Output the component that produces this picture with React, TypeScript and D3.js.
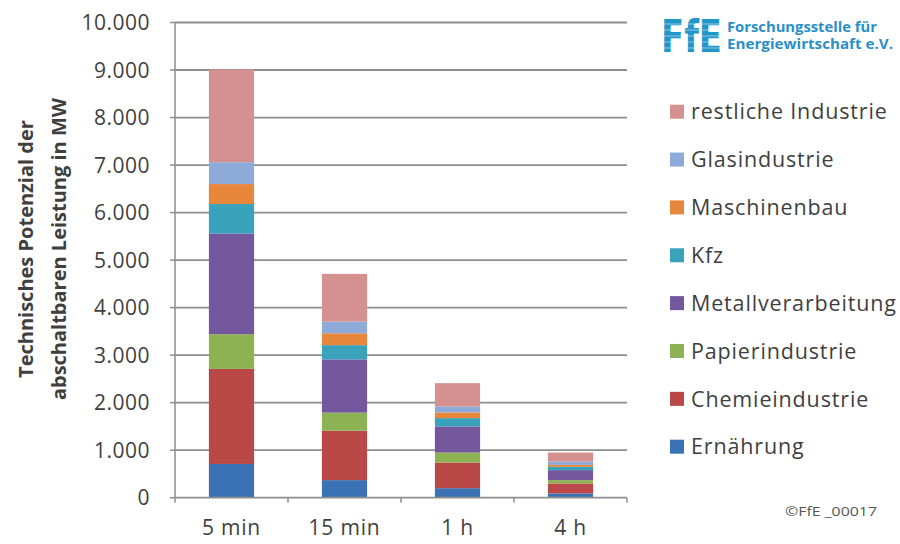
import React from "react";
import * as d3 from "d3";

const categories = ["5 min", "15 min", "1 h", "4 h"];
const seriesNames = [
  "Ernährung",
  "Chemieindustrie",
  "Papierindustrie",
  "Metallverarbeitung",
  "Kfz",
  "Maschinenbau",
  "Glasindustrie",
  "restliche Industrie",
];
const seriesColors = [
  "#3b72b6",
  "#b94846",
  "#8db254",
  "#74579d",
  "#3aa2bb",
  "#e8873b",
  "#8eaad8",
  "#d59090",
];
const ernaehrung = [710, 370, 200, 90];
const chemie = [2000, 1040, 540, 210];
const papier = [730, 380, 210, 70];
const metall = [2120, 1120, 550, 210];
const kfz = [620, 300, 175, 70];
const maschinenbau = [420, 250, 120, 40];
const glas = [460, 245, 125, 70];
const restliche = [1950, 1005, 490, 190];
const seriesValues = [ernaehrung, chemie, papier, metall, kfz, maschinenbau, glas, restliche];
const yTicks = [0, 1000, 2000, 3000, 4000, 5000, 6000, 7000, 8000, 9000, 10000];

const W = 900;
const H = 544;
const plotLeft = 175;
const plotRight = 627;
const plotTop = 22.5;
const plotBottom = 497.7;

export default function App() {
  const x = d3.scaleBand<string>().domain(categories).range([plotLeft, plotRight]).paddingInner(0.6).paddingOuter(0.3);
  const y = d3.scaleLinear().domain([0, 10000]).range([plotBottom, plotTop]);
  const rows = categories.map((c, i) => {
    const r: any = { cat: c };
    seriesNames.forEach((s, k) => (r[s] = seriesValues[k][i]));
    return r;
  });
  const stacked = d3.stack<any>().keys(seriesNames)(rows);
  const fmt = (v: number) => d3.format(",")(v).replace(/,/g, ".");
  const band = (plotRight - plotLeft) / categories.length;
  const font = "'Open Sans', Lato, sans-serif";
  const legendY = d3.scaleLinear().domain([0, 7]).range([111.7, 446.7]);
  const legendOrder = seriesNames.slice().reverse();
  const textCol = "#3f3f3f";
  const gridCol = "#8e8e8e";

  return (
    <svg width={W} height={H} style={{ position: "absolute", left: 0, top: 0, background: "#fff" }} fontFamily={font}>
      {/* gridlines */}
      {yTicks.filter((t) => t > 0).map((t) => (
        <line key={t} x1={plotLeft} x2={plotRight} y1={y(t)} y2={y(t)} stroke={gridCol} strokeWidth={1.8} />
      ))}
      {/* y axis */}
      <line x1={plotLeft} x2={plotLeft} y1={plotTop} y2={plotBottom} stroke={gridCol} strokeWidth={1.5} />
      {yTicks.map((t) => (
        <g key={"yt" + t}>
          <line x1={plotLeft - 5} x2={plotLeft} y1={y(t)} y2={y(t)} stroke={gridCol} strokeWidth={1.5} />
          <text x={150} y={y(t)} dy="0.36em" textAnchor="end" fontSize={21} letterSpacing={0.5} fill={textCol}>
            {fmt(t)}
          </text>
        </g>
      ))}
      {/* bars */}
      {stacked.map((layer, k) => (
        <g key={layer.key} fill={seriesColors[k]}>
          {layer.map((d, i) => (
            <rect key={i} x={x(categories[i])} width={x.bandwidth()} y={y(d[1])} height={y(d[0]) - y(d[1])} />
          ))}
        </g>
      ))}
      {/* x axis */}
      <line x1={plotLeft} x2={plotRight} y1={plotBottom} y2={plotBottom} stroke={gridCol} strokeWidth={1.8} />
      {d3.range(categories.length + 1).map((i) => (
        <line key={"xt" + i} x1={plotLeft + i * band} x2={plotLeft + i * band} y1={plotBottom} y2={plotBottom + 5} stroke={gridCol} strokeWidth={1.5} />
      ))}
      {categories.map((c) => (
        <text key={c} x={(x(c) as number) + x.bandwidth() / 2} y={535} textAnchor="middle" fontSize={21} letterSpacing={0.8} fill={textCol}>
          {c}
        </text>
      ))}
      {/* y title */}
      <g transform="translate(33,249) rotate(-90)">
        <text x={0} y={0} textAnchor="middle" fontSize={20} fontWeight="bold" fill={textCol}>
          Technisches Potenzial der
        </text>
        <text x={0} y={33} textAnchor="middle" fontSize={20} fontWeight="bold" fill={textCol}>
          abschaltbaren Leistung in MW
        </text>
      </g>
      {/* legend */}
      {legendOrder.map((s, i) => {
        const k = seriesNames.indexOf(s);
        return (
          <g key={s} transform={`translate(670,${legendY(i)})`}>
            <rect x={0} y={-7} width={14} height={14} fill={seriesColors[k]} />
            <text x={21} y={0} dy="0.36em" fontSize={21.5} letterSpacing={0.85} fill={textCol}>
              {s}
            </text>
          </g>
        );
      })}
      {/* logo */}
      <g>
        <text x={661} y={52} fontSize={44} fontWeight="900" fill="#2196c9" fontFamily="'DejaVu Sans', sans-serif" textLength={61} lengthAdjust="spacingAndGlyphs">
          FfE
        </text>
        {[24, 30, 36, 42, 48].map((yy) => (
          <line key={yy} x1={661} x2={723} y1={yy} y2={yy} stroke="#fff" strokeWidth={0.9} opacity={0.55} />
        ))}
        <text x={727} y={32} fontSize={13.5} fontWeight="bold" fill="#2a8fc8" fontFamily="'Liberation Sans Narrow', 'Open Sans', sans-serif" textLength={150} lengthAdjust="spacingAndGlyphs">
          Forschungsstelle für
        </text>
        <text x={727} y={49} fontSize={13.5} fontWeight="bold" fill="#2a8fc8" fontFamily="'Liberation Sans Narrow', 'Open Sans', sans-serif" textLength={166} lengthAdjust="spacingAndGlyphs">
          Energiewirtschaft e.V.
        </text>
      </g>
      <text x={785} y={516} fontSize={12.5} fill="#555" textLength={92} lengthAdjust="spacingAndGlyphs">
        ©FfE _00017
      </text>
    </svg>
  );
}
